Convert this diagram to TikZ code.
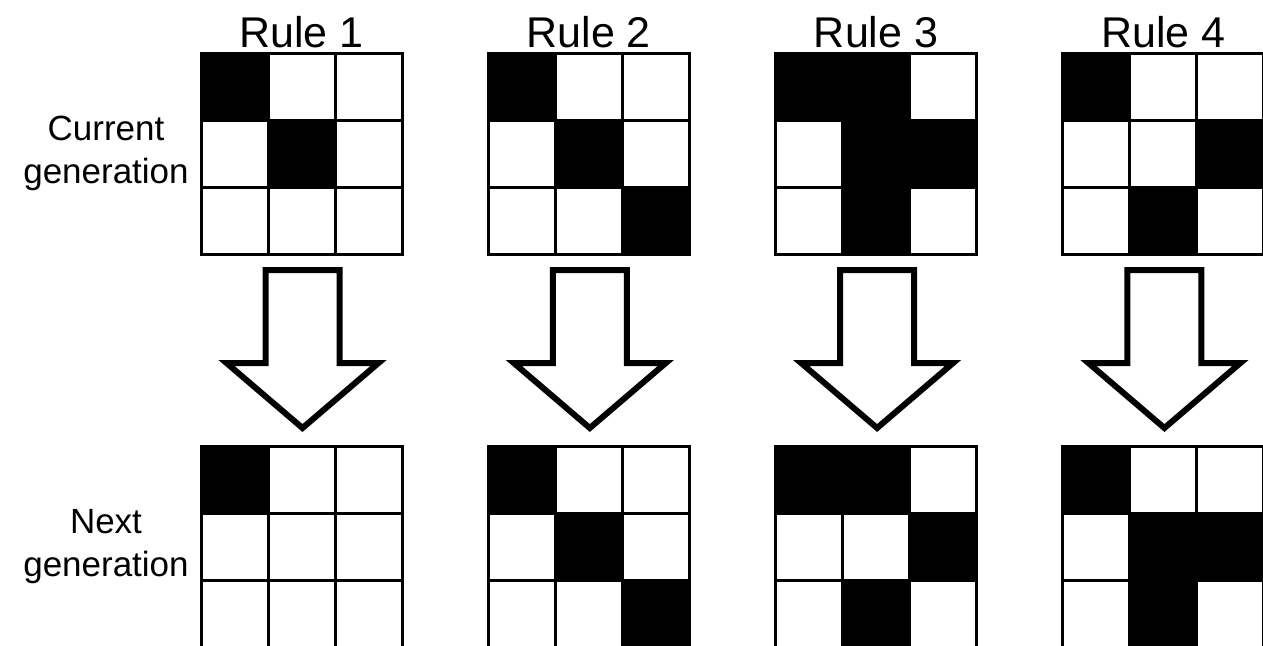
\documentclass[tikz,border=0pt]{standalone}
\usepackage{fontspec}
\setmainfont{Liberation Sans}
\tikzset{
  gridline/.style={line width=3pt, line cap=rect},
  blockarrow/.style={line width=6pt, line join=miter, fill=white, draw=black},
  rulelabel/.style={anchor=base, inner sep=0pt, font=\fontsize{43}{43}\selectfont},
  sidelabel/.style={anchor=base, inner sep=0pt, font=\fontsize{35}{35}\selectfont},
  cellblack/.style={fill=black}
}
\newcommand{\drawcells}[3]{% x0, y0, list of r/c
  \foreach \r/\c in {#3} {
    \fill[cellblack] (#1+\c*67, #2+\r*67) rectangle ++(67,67);
  }
  \foreach \k in {0,1,2,3} {
    \draw[gridline] (#1+\k*67, #2) -- (#1+\k*67, #2+201);
    \draw[gridline] (#1, #2+\k*67) -- (#1+201, #2+\k*67);
  }
}
\begin{document}
\begin{tikzpicture}[x=1pt,y=-1pt]
\useasboundingbox (0,0) rectangle (1263,645);
\clip (0,0) rectangle (1263,645);
\fill[white] (0,0) rectangle (1263,645);

% side labels
\node[sidelabel] (cur1) at (106,140) {Current};
\node[sidelabel] (cur2) at (106,183) {generation};
\node[sidelabel] (nxt1) at (106,533) {Next};
\node[sidelabel] (nxt2) at (106,576) {generation};

% rule labels
\node[rulelabel] (r1) at (301.5,47) {Rule 1};
\node[rulelabel] (r2) at (588.8,47) {Rule 2};
\node[rulelabel] (r3) at (876.1,47) {Rule 3};
\node[rulelabel] (r4) at (1163.4,47) {Rule 4};

% grids: current generation
\drawcells{201}{53.5}{0/0,1/1}
\drawcells{488.3}{53.5}{0/0,1/1,2/2}
\drawcells{775.6}{53.5}{0/0,0/1,1/1,1/2,2/1}
\drawcells{1062.9}{53.5}{0/0,1/2,2/1}

% grids: next generation
\drawcells{201}{446.5}{0/0}
\drawcells{488.3}{446.5}{0/0,1/1,2/2}
\drawcells{775.6}{446.5}{0/0,0/1,1/2,2/1}
\drawcells{1062.9}{446.5}{0/0,1/1,1/2,2/1}

% block arrows
\foreach \cx in {302.5,589.8,877.1,1164.4} {
  \draw[blockarrow] (\cx-37,270) -- (\cx+37,270) -- (\cx+37,363) -- (\cx+76,363)
     -- (\cx,428) -- (\cx-76,363) -- (\cx-37,363) -- cycle;
}
\end{tikzpicture}
\end{document}
